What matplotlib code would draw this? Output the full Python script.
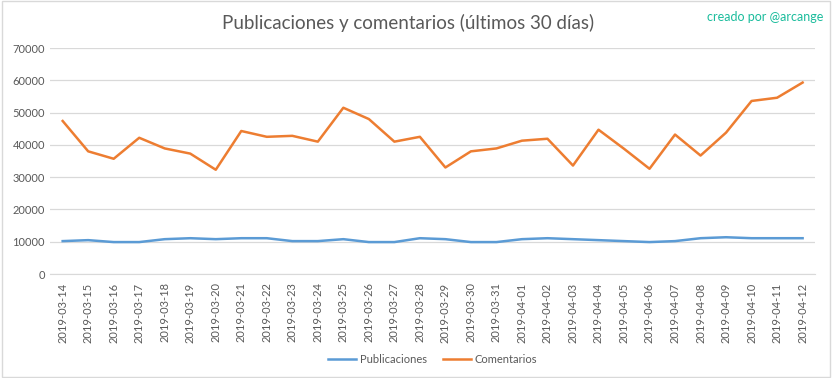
import matplotlib
matplotlib.use("Agg")
import matplotlib.pyplot as plt
import pandas as pd

plt.rcParams["font.family"] = ["Lato", "DejaVu Sans"]

# Daily values
fechas = [d.strftime("%Y-%m-%d") for d in pd.date_range("2019-03-14", "2019-04-12")]
publicaciones = [10200, 10500, 9900, 9900, 10800, 11100, 10800, 11100, 11100, 10200,
                 10200, 10800, 9900, 9900, 11100, 10800, 9900, 9900, 10800, 11100,
                 10800, 10500, 10200, 9900, 10200, 11100, 11400, 11100, 11100, 11100]
comentarios = [47400, 38000, 35700, 42200, 38900, 37300, 32300, 44300, 42500, 42800,
               41000, 51500, 48000, 41000, 42500, 33000, 38000, 38900, 41300, 41900,
               33600, 44700, 38800, 32600, 43200, 36700, 43800, 53600, 54600, 59300]
yticks = [0, 10000, 20000, 30000, 40000, 50000, 60000, 70000]

gris = "#595959"

fig = plt.figure(figsize=(8.32, 3.78), dpi=100)
ax = fig.add_axes([0.06, 0.275, 0.92, 0.598])

x = range(len(fechas))
ax.plot(x, publicaciones, color="#5b9bd5", lw=1.8, label="Publicaciones")
ax.plot(x, comentarios, color="#ed7d31", lw=1.8, label="Comentarios")

ax.set_ylim(0, 70000)
ax.set_yticks(yticks)
ax.set_xlim(-0.5, len(fechas) - 0.5)
ax.set_xticks(list(x))
ax.set_xticklabels(fechas, rotation=90)
ax.tick_params(axis="both", length=0, labelsize=8, colors=gris)
ax.tick_params(axis="x", pad=6)
ax.grid(axis="y", color="#d9d9d9", lw=0.9)
ax.set_axisbelow(True)
for s in ["top", "right", "left"]:
    ax.spines[s].set_visible(False)
ax.spines["bottom"].set_color("#d9d9d9")

fig.text(0.491, 0.94, "Publicaciones y comentarios (últimos 30 días)",
         ha="center", va="center", fontsize=13.5, color=gris)
fig.text(0.99, 0.955, "creado por @arcange", ha="right", va="center",
         fontsize=9, color="#1abc9c")

ax.legend(loc="upper center", bbox_to_anchor=(0.5, -0.31), ncol=2, frameon=False,
          fontsize=8, labelcolor=gris, handlelength=2.5, handletextpad=0.3,
          columnspacing=1.5)

# light border around the whole picture
fig.patches.append(plt.Rectangle((0.002, 0.003), 0.996, 0.994, transform=fig.transFigure,
                                 fill=False, edgecolor="#d9d9d9", lw=1))

fig.savefig("out.png", dpi=100)
